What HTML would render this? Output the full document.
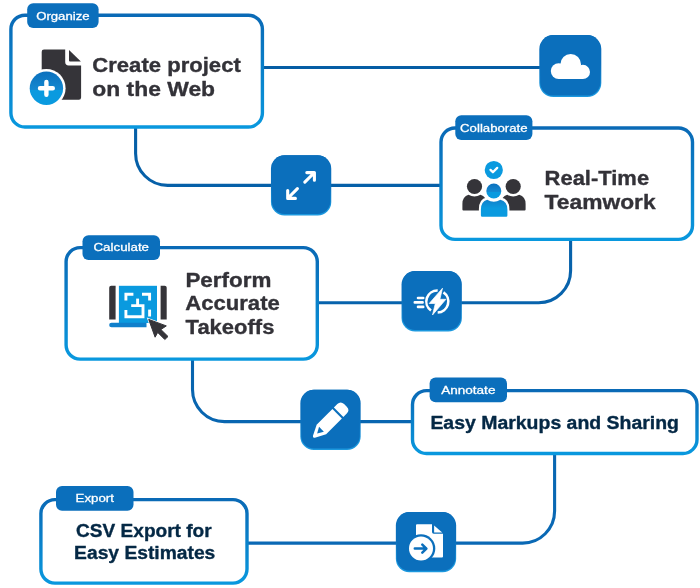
<!DOCTYPE html>
<html lang="en">
<head>
<meta charset="utf-8">
<title>Workflow</title>
<style>
html,body{margin:0;padding:0;background:#fff;}
body{width:700px;height:588px;overflow:hidden;font-family:'Liberation Sans', sans-serif;}
svg{display:block;}
svg text{font-family:'Liberation Sans', sans-serif;}
</style>
</head>
<body>
<svg width="700" height="588" viewBox="0 0 700 588">
<defs>
<filter id="soft" x="0" y="0" width="700" height="588" filterUnits="userSpaceOnUse" color-interpolation-filters="sRGB"><feGaussianBlur stdDeviation="0.35"/></filter>
<linearGradient id="gl" gradientUnits="userSpaceOnUse" x1="0" y1="60" x2="0" y2="550">
<stop offset="0" stop-color="#055da4"/><stop offset="1" stop-color="#0a69b5"/>
</linearGradient>
<linearGradient id="gb" x1="0" y1="0" x2="0" y2="1">
<stop offset="0" stop-color="#0a6ab6"/><stop offset="1" stop-color="#0998de"/>
</linearGradient>
<linearGradient id="gi" x1="0" y1="0" x2="0" y2="1">
<stop offset="0" stop-color="#0b6fbc"/><stop offset="0.45" stop-color="#0b6fbc"/><stop offset="0.85" stop-color="#1c98de"/><stop offset="1" stop-color="#1c98de"/>
</linearGradient>
<linearGradient id="gc2" x1="0" y1="0" x2="0" y2="1">
<stop offset="0" stop-color="#0b70bd"/><stop offset="0.54" stop-color="#1488d0"/><stop offset="0.55" stop-color="#0a9adf"/><stop offset="1" stop-color="#0a9adf"/>
</linearGradient>
<linearGradient id="gc3" x1="0" y1="0" x2="0" y2="1">
<stop offset="0" stop-color="#1180c9"/><stop offset="0.5" stop-color="#0a9adf"/><stop offset="1" stop-color="#0a9adf"/>
</linearGradient>
</defs>
<rect width="700" height="588" fill="#fff"/>
<g filter="url(#soft)">
<g fill="none" stroke="url(#gl)" stroke-width="3.1"><path d="M262 67.5H540"/><path d="M135.6 126V153.4A32 32 0 0 0 167.6 185.4H440"/><path d="M570.6 239V270.7A32 32 0 0 1 538.6 302.7H319"/><path d="M192.5 360V389.6A32 32 0 0 0 224.5 421.6H412"/><path d="M554.6 454V511.1A32 32 0 0 1 522.6 543.1H248"/></g>
<rect x="10.9" y="15.2" width="251.5" height="111.8" rx="14" ry="14" fill="#fff" stroke="url(#gb)" stroke-width="3.4"/>
<rect x="441.0" y="128.0" width="251.5" height="111.4" rx="14" ry="14" fill="#fff" stroke="url(#gb)" stroke-width="3.4"/>
<rect x="66.1" y="247.6" width="251.2" height="111.5" rx="14" ry="14" fill="#fff" stroke="url(#gb)" stroke-width="3.4"/>
<rect x="412.5" y="390.6" width="284.5" height="62.9" rx="14" ry="14" fill="#fff" stroke="url(#gb)" stroke-width="3.4"/>
<rect x="40.9" y="499.6" width="206.1" height="83.5" rx="14" ry="14" fill="#fff" stroke="url(#gb)" stroke-width="3.4"/>
<rect x="27.2" y="3.3" width="71.4" height="24.8" rx="6" ry="6" fill="#0b6fbc"/><text x="62.9" y="19.53" text-anchor="middle" font-size="11.6" font-weight="normal" fill="#fff" stroke="#fff" stroke-width="0.3" textLength="53.4" lengthAdjust="spacingAndGlyphs">Organize</text>
<rect x="455.3" y="115.3" width="77.1" height="24.8" rx="6" ry="6" fill="#0b6fbc"/><text x="493.85" y="131.53" text-anchor="middle" font-size="11.6" font-weight="normal" fill="#fff" stroke="#fff" stroke-width="0.3" textLength="67.5" lengthAdjust="spacingAndGlyphs">Collaborate</text>
<rect x="82.5" y="235.2" width="77.5" height="24.8" rx="6" ry="6" fill="#0b6fbc"/><text x="121.25" y="251.43" text-anchor="middle" font-size="11.6" font-weight="normal" fill="#fff" stroke="#fff" stroke-width="0.3" textLength="55.5" lengthAdjust="spacingAndGlyphs">Calculate</text>
<rect x="429.6" y="377.6" width="77.4" height="24.6" rx="6" ry="6" fill="#0b6fbc"/><text x="468.3" y="393.73" text-anchor="middle" font-size="11.6" font-weight="normal" fill="#fff" stroke="#fff" stroke-width="0.3" textLength="54.3" lengthAdjust="spacingAndGlyphs">Annotate</text>
<rect x="56" y="486.1" width="77.5" height="24.6" rx="6" ry="6" fill="#0b6fbc"/><text x="94.75" y="502.23" text-anchor="middle" font-size="11.6" font-weight="normal" fill="#fff" stroke="#fff" stroke-width="0.3" textLength="38.4" lengthAdjust="spacingAndGlyphs">Export</text>
<text x="92.3" y="72.4" text-anchor="start" font-size="20.7" font-weight="bold" fill="#333238" stroke="#333238" stroke-width="0.35" stroke-linejoin="round" textLength="148.5" lengthAdjust="spacingAndGlyphs">Create project</text>
<text x="92.3" y="96.1" text-anchor="start" font-size="20.7" font-weight="bold" fill="#333238" stroke="#333238" stroke-width="0.35" stroke-linejoin="round" textLength="122.8" lengthAdjust="spacingAndGlyphs">on the Web</text>
<text x="544.6" y="184.9" text-anchor="start" font-size="20.7" font-weight="bold" fill="#333238" stroke="#333238" stroke-width="0.35" stroke-linejoin="round" textLength="104.5" lengthAdjust="spacingAndGlyphs">Real-Time</text>
<text x="544.6" y="208.9" text-anchor="start" font-size="20.7" font-weight="bold" fill="#333238" stroke="#333238" stroke-width="0.35" stroke-linejoin="round" textLength="111" lengthAdjust="spacingAndGlyphs">Teamwork</text>
<text x="185.4" y="286.7" text-anchor="start" font-size="20.7" font-weight="bold" fill="#333238" stroke="#333238" stroke-width="0.35" stroke-linejoin="round" textLength="86" lengthAdjust="spacingAndGlyphs">Perform</text>
<text x="185.2" y="310.3" text-anchor="start" font-size="20.7" font-weight="bold" fill="#333238" stroke="#333238" stroke-width="0.35" stroke-linejoin="round" textLength="94.6" lengthAdjust="spacingAndGlyphs">Accurate</text>
<text x="185.6" y="334.2" text-anchor="start" font-size="20.7" font-weight="bold" fill="#333238" stroke="#333238" stroke-width="0.35" stroke-linejoin="round" textLength="88.8" lengthAdjust="spacingAndGlyphs">Takeoffs</text>
<text x="554.7" y="428.8" text-anchor="middle" font-size="17.5" font-weight="bold" fill="#042845" stroke="#042845" stroke-width="0.35" stroke-linejoin="round" textLength="248.6" lengthAdjust="spacingAndGlyphs">Easy Markups and Sharing</text>
<text x="143.9" y="537.3" text-anchor="middle" font-size="17.5" font-weight="bold" fill="#042845" stroke="#042845" stroke-width="0.35" stroke-linejoin="round" textLength="135.6" lengthAdjust="spacingAndGlyphs">CSV Export for</text>
<text x="144.7" y="558.8" text-anchor="middle" font-size="17.5" font-weight="bold" fill="#042845" stroke="#042845" stroke-width="0.35" stroke-linejoin="round" textLength="141.2" lengthAdjust="spacingAndGlyphs">Easy Estimates</text>
<rect x="539.30" y="35.10" width="62" height="62" rx="14" ry="14" fill="url(#gi)"/><rect x="540.20" y="35.10" width="60.20" height="60.50" rx="13.1" ry="13.3" fill="#0b6fbc"/>
<rect x="270.95" y="155.20" width="60.3" height="60.3" rx="13.5" ry="13.5" fill="url(#gi)"/><rect x="271.85" y="155.20" width="58.50" height="58.80" rx="12.6" ry="12.8" fill="#0b6fbc"/>
<rect x="401.55" y="271.10" width="60.3" height="60.3" rx="13.5" ry="13.5" fill="url(#gi)"/><rect x="402.45" y="271.10" width="58.50" height="58.80" rx="12.6" ry="12.8" fill="#0b6fbc"/>
<rect x="300.35" y="389.75" width="60.3" height="60.3" rx="13.5" ry="13.5" fill="url(#gi)"/><rect x="301.25" y="389.75" width="58.50" height="58.80" rx="12.6" ry="12.8" fill="#0b6fbc"/>
<rect x="395.85" y="511.95" width="60.3" height="60.3" rx="13.5" ry="13.5" fill="url(#gi)"/><rect x="396.75" y="511.95" width="58.50" height="58.80" rx="12.6" ry="12.8" fill="#0b6fbc"/>
<!-- icon: document plus -->
<g>
<path d="M44 49.5H65.2V62Q65.2 65.4 68.6 65.4H81.1V97.6Q81.1 99.8 78.9 99.8H43.9Q41.7 99.8 41.7 97.6V51.7Q41.7 49.5 44 49.5Z" fill="#353439"/>
<path d="M69 50.1L80.9 61.5H70Q69 61.5 69 60.5Z" fill="#353439"/>
<circle cx="46.4" cy="88.2" r="19.2" fill="#fff"/>
<circle cx="46.4" cy="88.2" r="16.7" fill="url(#gc2)"/>
<path d="M40 88.3H52.8M46.4 81.9V94.7" stroke="#fff" stroke-width="4.4" stroke-linecap="round" fill="none"/>
</g>
<!-- icon: team -->
<g>
<circle cx="493.8" cy="170" r="9.1" fill="#0a9adf"/>
<path d="M490.5 169.9L492.9 172.2L497.2 167.9" stroke="#fff" stroke-width="2.3" stroke-linecap="round" stroke-linejoin="round" fill="none"/>
<g fill="#353439">
<circle cx="474.5" cy="186.5" r="7.6"/>
<circle cx="513.2" cy="186.5" r="7.6"/>
<path d="M462.4 209.5V204Q462.4 196.5 468.5 194.8Q474.5 198.4 480.5 194.8Q486.6 196.5 486.6 204V210.5H463.4Q462.4 210.5 462.4 209.5Z"/>
<path d="M501.1 210.5V204Q501.1 196.5 507.2 194.8Q513.2 198.4 519.2 194.8Q525.6 196.5 525.6 204V209.5Q525.6 210.5 524.6 210.5Z"/>
</g>
<circle cx="493.8" cy="191" r="9.4" fill="#fff"/>
<path d="M478.9 218.5V209Q478.9 199 486.5 197.4Q493.8 201.8 501.1 197.4Q509.4 199 509.4 209V218.5Z" fill="#fff"/>
<circle cx="493.8" cy="191" r="7.5" fill="url(#gc2)"/>
<path d="M480.9 215.5V209.5Q480.9 201.4 487.2 199.7Q493.8 203.6 500.4 199.7Q507.4 201.4 507.4 209.5V215.5Q507.4 216.7 506.2 216.7H482.1Q480.9 216.7 480.9 215.5Z" fill="url(#gc3)"/>
</g>
<!-- icon: blueprint -->
<g>
<path d="M111.2 285.8H115.6V319.6H109.2V287.8Q109.2 285.8 111.2 285.8Z" fill="#353439"/>
<path d="M160.6 285.8H164.7Q166.7 285.8 166.7 287.8V319.6H160.6Z" fill="#353439"/>
<rect x="118.9" y="285.8" width="38.1" height="37.2" fill="#0a9adf"/>
<path d="M111.5 322.8H146.5V327.3H111.5Q109.2 327.3 109.2 325Q109.2 322.8 111.5 322.8Z" fill="#0f7fcb"/>
<g fill="none" stroke="#fff" stroke-width="2.9">
<path d="M125.9 300.6V294.3H133.4"/>
<path d="M142 294.3H149.6V300.6"/>
<path d="M125.9 310V316.7H143V305.6H131.2"/>
<path d="M137.6 298.6V305.6"/>
<path d="M149.6 309.6V316.5"/>
</g>
<path d="M146.8 317.6L169 325.5L163.6 329.5L170.4 336.6L164.8 341.6L157.9 334.8L154.5 339.8Z" fill="#fff"/>
<path d="M148.7 319.4L166.3 325.9L160.9 329.5L168 336.5L164.8 339.5L157.7 332.4L155.1 337.2Z" fill="#353439" stroke="#353439" stroke-width="1" stroke-linejoin="round"/>
</g>
<!-- icon: cloud -->
<g fill="#fff">
<circle cx="570.7" cy="64.2" r="10.3"/>
<circle cx="558.7" cy="71.1" r="7.9"/>
<circle cx="582.9" cy="71.9" r="7.1"/>
<rect x="558.7" y="68" width="24.2" height="11"/>
</g>
<!-- icon: expand -->
<g fill="none" stroke="#fff" stroke-width="3.1" stroke-linecap="round" stroke-linejoin="round">
<path d="M306.8 172.6H314.4V180.2M314 173L304.8 182.2"/>
<path d="M287.7 190.6V198.4H295.4M288.1 198L297.4 188.7"/>
</g>
<!-- icon: lightning -->
<g>
<path d="M437.68 290.51A11.0 11.0 0 0 0 430.99 310.51M443.45 292.38A11.0 11.0 0 0 1 437.68 312.49" fill="none" stroke="#fff" stroke-width="2.6"/>
<path d="M442.5 288.2L429.2 303.5H435.3L432.5 315L445.9 299.3H439.9Z" fill="#fff" stroke="#fff" stroke-width="0.7" stroke-linejoin="round"/>
<path d="M418 298H423.2M414.8 302.4H422.6M418 306.9H423.2" stroke="#fff" stroke-width="2.6" stroke-linecap="round" fill="none"/>
</g>
<!-- icon: pencil -->
<g transform="translate(312.9 437.4) rotate(-45) translate(0 0.4)">
<path d="M1.2 -1.5Q-0.9 -0.3 1.2 1.2L11.6 6.7H33.9V-6.7H11.6Z" fill="#fff"/>
<path d="M36 -6.7H40.8Q45.6 -6.7 45.6 -1.9V1.9Q45.6 6.7 40.8 6.7H36Z" fill="#fff"/>
<path d="M5.8 -0.2L11.8 -3.5V3.3Z" fill="#0b6fbc"/>
</g>
<!-- icon: export doc -->
<g>
<path d="M417 524.3H432V532Q432 533.8 433.8 533.8H443V556.6Q443 557.6 442 557.6H417Q416 557.6 416 556.6V525.3Q416 524.3 417 524.3Z" fill="#fff"/>
<path d="M434.1 525.5L442.2 532.6H434.1Z" fill="#fff"/>
<circle cx="421" cy="548.5" r="14.3" fill="#0b6fbc"/>
<circle cx="421" cy="548.5" r="12" fill="#fff"/>
<path d="M414.8 548.6H426M422.3 544.6L426.4 548.6L422.3 552.6" stroke="#0b6fbc" stroke-width="2.5" stroke-linecap="round" stroke-linejoin="round" fill="none"/>
</g>

</g>
</svg>
</body>
</html>
